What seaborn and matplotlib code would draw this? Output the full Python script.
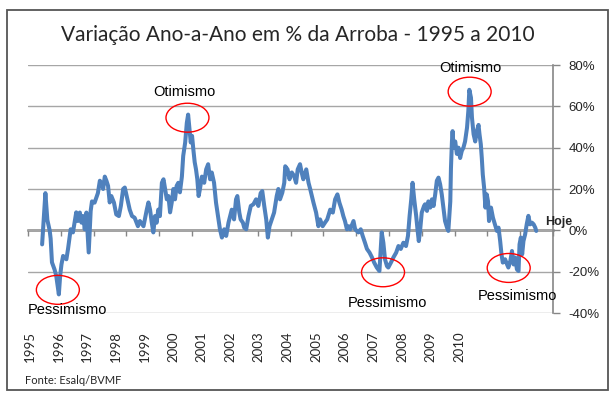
import numpy as np
import pandas as pd
import matplotlib
matplotlib.use("Agg")
import matplotlib.pyplot as plt
import seaborn as sns
from matplotlib.patches import Ellipse, Rectangle

# anos (decimal) e variacao ano-a-ano da arroba (%)
anos = [
    1995.43, 1995.53, 1995.59, 1995.66, 1995.69, 1995.73, 1995.81, 1995.86, 1995.94, 1995.98,
    1996.02, 1996.07, 1996.17, 1996.22, 1996.30, 1996.37, 1996.47, 1996.52, 1996.58, 1996.63,
    1996.68, 1996.73, 1996.78, 1996.85, 1996.91, 1996.95, 1997.03, 1997.13, 1997.19, 1997.23,
    1997.29, 1997.34, 1997.39, 1997.44, 1997.49, 1997.54, 1997.62, 1997.69, 1997.77, 1997.83,
    1997.90, 1997.95, 1998.03, 1998.10, 1998.17, 1998.25, 1998.35, 1998.41, 1998.52, 1998.62,
    1998.67, 1998.72, 1998.77, 1998.82, 1998.87, 1998.92, 1998.97, 1999.02, 1999.08, 1999.13,
    1999.18, 1999.23, 1999.28, 1999.33, 1999.38, 1999.43, 1999.48, 1999.53, 1999.58, 1999.63,
    1999.69, 1999.73, 1999.79, 1999.84, 1999.88, 1999.92, 1999.96, 2000.00, 2000.04, 2000.08,
    2000.12, 2000.16, 2000.20, 2000.24, 2000.30, 2000.37, 2000.43, 2000.49, 2000.55, 2000.60,
    2000.67, 2000.73, 2000.79, 2000.85, 2000.91, 2000.98, 2001.04, 2001.11, 2001.16, 2001.21,
    2001.28, 2001.34, 2001.38, 2001.44, 2001.48, 2001.55, 2001.59, 2001.65, 2001.72, 2001.79,
    2001.87, 2001.95, 2002.02, 2002.09, 2002.14, 2002.20, 2002.26, 2002.31, 2002.36, 2002.43,
    2002.50, 2002.58, 2002.63, 2002.68, 2002.75, 2002.81, 2002.84, 2002.91, 2002.97, 2003.04,
    2003.11, 2003.17, 2003.22, 2003.29, 2003.34, 2003.39, 2003.48, 2003.55, 2003.60, 2003.65,
    2003.70, 2003.78, 2003.85, 2003.90, 2003.98, 2004.05, 2004.12, 2004.21, 2004.29, 2004.36,
    2004.43, 2004.49, 2004.56, 2004.61, 2004.66, 2004.72, 2004.77, 2004.82, 2004.92, 2004.97,
    2005.07, 2005.14, 2005.20, 2005.27, 2005.33, 2005.41, 2005.48, 2005.55, 2005.63, 2005.71,
    2005.75, 2005.78, 2005.83, 2005.88, 2005.94, 2005.98, 2006.06, 2006.14, 2006.22, 2006.29,
    2006.36, 2006.44, 2006.52, 2006.58, 2006.63, 2006.68, 2006.72, 2006.77, 2006.83, 2006.87,
    2006.91, 2006.95, 2007.00, 2007.07, 2007.10, 2007.16, 2007.20, 2007.26, 2007.31, 2007.36,
    2007.41, 2007.46, 2007.51, 2007.56, 2007.61, 2007.66, 2007.71, 2007.77, 2007.81, 2007.87,
    2007.89, 2007.92, 2007.94, 2007.97, 2008.02, 2008.07, 2008.12, 2008.17, 2008.22, 2008.27,
    2008.32, 2008.38, 2008.42, 2008.45, 2008.50, 2008.53, 2008.58, 2008.63, 2008.68, 2008.73,
    2008.76, 2008.80, 2008.83, 2008.86, 2008.90, 2008.94, 2008.98, 2009.02, 2009.05, 2009.11,
    2009.17, 2009.23, 2009.29, 2009.34, 2009.39, 2009.43, 2009.47, 2009.54, 2009.60, 2009.64,
    2009.70, 2009.75, 2009.80, 2009.85, 2009.90, 2009.95, 2009.98, 2010.02, 2010.06, 2010.10,
    2010.15, 2010.20, 2010.25, 2010.30, 2010.36, 2010.41, 2010.46, 2010.49,
]
variacao = [
    -6.8, 18.0, 5.0, 0.0, -4.0, -15.5, -19.0, -22.0, -31.0, -22.0,
    -16.5, -12.4, -14.0, -9.0, 0.5, -1.0, 8.7, 4.5, 8.6, 3.7,
    6.9, 0.5, 8.6, -10.7, 9.4, 14.0, 13.4, 18.0, 24.0, 23.0,
    20.0, 26.0, 24.0, 21.5, 13.5, 16.6, 13.4, 7.7, 6.9, 11.8,
    20.0, 20.7, 15.0, 10.0, 6.9, 6.1, 2.0, 4.5, 2.0, 10.0,
    13.5, 10.0, 3.9, -1.0, 6.9, 3.7, 10.0, 6.9, 23.0, 24.7,
    20.0, 15.0, 16.6, 8.7, 13.4, 20.0, 15.0, 21.5, 23.0, 18.4,
    26.0, 36.0, 42.5, 52.0, 56.0, 49.0, 42.5, 45.7, 39.0, 33.0,
    29.5, 24.7, 16.6, 20.0, 26.0, 23.0, 29.5, 32.0, 24.7, 28.0,
    23.0, 13.4, 6.9, 0.5, -3.5, 0.5, -2.7, 3.7, 6.9, 10.0,
    5.3, 15.0, 16.6, 8.6, 5.3, 3.7, 1.3, 0.5, 6.9, 11.8,
    12.6, 15.0, 11.8, 18.0, 19.0, 11.8, 5.3, -3.5, 2.0, 5.3,
    8.6, 16.6, 20.0, 15.0, 18.2, 23.0, 31.0, 29.5, 24.7, 28.0,
    26.3, 23.0, 29.5, 32.0, 28.0, 24.7, 29.5, 23.0, 20.0, 16.6,
    13.4, 8.6, 2.0, 5.3, 2.0, 3.7, 5.3, 10.0, 8.6, 15.0,
    17.4, 13.4, 10.0, 6.9, 4.5, 0.5, 2.0, 0.5, 4.5, 0.5,
    -1.0, 0.5, -2.7, -6.0, -9.0, -10.8, -13.0, -15.6, -18.0, -19.7,
    -9.0, -1.0, -6.0, -14.0, -17.3, -18.0, -15.6, -13.0, -10.8, -7.6,
    -9.0, -6.0, -7.6, -2.7, 7.0, 15.0, 23.0, 15.0, 7.0, 0.5,
    -5.2, 0.0, 8.6, 11.8, 12.6, 9.4, 14.0, 11.0, 15.0, 11.8,
    17.4, 24.0, 25.5, 22.3, 17.4, 11.0, 4.5, 1.3, -0.3, 14.0,
    30.0, 43.0, 48.0, 40.0, 43.0, 37.0, 40.0, 35.0, 38.4, 40.0,
    43.0, 49.7, 57.8, 68.0, 64.2, 54.6, 46.5, 43.0, 48.0, 51.0,
    46.5, 41.6, 35.0, 27.0, 20.7, 11.0, 17.4, 14.0, 4.5, 11.0,
    6.1, 2.9, -0.3, 1.3, -5.2, -11.6, -15.6, -14.0, -16.5, -18.0,
    -14.8, -10.0, -16.5, -13.2, -18.9, -19.7, -6.8, -3.5, -11.6, -5.2,
    -2.0, 3.0, 7.0, 2.9, 3.7, 2.9, 1.3, -0.3,
]

anos_rotulo = ["1995", "1996", "1997", "1998", "1999", "2000", "2001", "2002",
               "2003", "2004", "2005", "2006", "2007", "2008", "2009", "2010"]
y_ticks = [-40, -20, 0, 20, 40, 60, 80]

# anotacoes: texto, posicao do texto, centro da elipse
notas_texto = ["Pessimismo", "Otimismo", "Pessimismo", "Otimismo", "Pessimismo"]
notas_pos = [(1996.19, -38.7), (1999.78, 66.7), (2005.96, -35.0), (2008.47, 78.5), (2009.92, -31.8)]
elipses = [(1995.91, -28.8), (1999.86, 54.5), (2005.82, -20.3), (2008.46, 67.1), (2009.65, -18.2)]

df = pd.DataFrame({"ano": anos, "variacao": variacao})

sns.set_style("white")
plt.rcParams["font.family"] = ["Liberation Sans", "DejaVu Sans"]

fig = plt.figure(figsize=(6.15, 3.98), dpi=100)
ax = fig.add_axes([28 / 615, 85 / 398, 525 / 615, 248 / 398])

azul = "#4F81BD"
cinza = "#868686"

sns.lineplot(data=df, x="ano", y="variacao", ax=ax, color=azul, lw=2.9,
             estimator=None, sort=False, zorder=3)

ax.set_xlim(1995, 2011)
ax.set_ylim(-40, 80)
ax.set_xlabel("")
ax.set_ylabel("")

# eixo y a direita
ax.yaxis.tick_right()
ax.set_yticks(y_ticks)
ax.set_yticklabels([f"{v}%" for v in y_ticks])
ax.tick_params(axis="y", direction="out", length=5, color=cinza, width=1,
               labelsize=9.5, pad=6, right=True, left=False)
for lbl in ax.get_yticklabels():
    lbl.set_horizontalalignment("left")
ax.grid(axis="y", color="#A6A6A6", lw=1)
for s in ["left", "top", "bottom"]:
    ax.spines[s].set_visible(False)
ax.spines["right"].set_color(cinza)
ax.spines["right"].set_linewidth(1.2)

# rotulos de ano (deslocados como no original)
pos_rotulo = 1995 + (2 + 28.6 * np.arange(len(anos_rotulo))) / 32.8
ax.set_xticks(pos_rotulo)
ax.set_xticklabels(anos_rotulo, rotation=90, fontsize=9.5, family=["Lato", "DejaVu Sans"],
                   va="top")
ax.tick_params(axis="x", length=0, pad=13)

# linha do zero com marcas por ano
sec = ax.secondary_xaxis(1 / 3)
sec.set_xticks(np.arange(1995, 2012))
sec.tick_params(axis="x", direction="out", length=4, color=cinza, width=1, labelbottom=False,
                labeltop=False, bottom=True, top=False)
sec.spines["bottom"].set_color(cinza)
sec.spines["bottom"].set_linewidth(1.8)
sec.spines["top"].set_visible(False)
sec.set_xticklabels([])

for (cx, cy) in elipses:
    ax.add_patch(Ellipse((cx, cy), 1.31, 14, fill=False, edgecolor="red", lw=1, zorder=4))
for txt, (tx, ty) in zip(notas_texto, notas_pos):
    ax.text(tx, ty, txt, ha="center", va="center", fontsize=10.5, color="black",
            clip_on=False, zorder=5)
ax.text(2011.17, 4, "Hoje", ha="center", va="center", fontsize=9, fontweight="bold",
        clip_on=False, zorder=5)

fig.text(298 / 615, 1 - 35 / 398, "Variação Ano-a-Ano em % da Arroba - 1995 a 2010",
         ha="center", va="center", fontsize=15, family=["Lato", "DejaVu Sans"])
fig.text(25 / 615, 1 - 381 / 398, "Fonte: Esalq/BVMF", ha="left", va="center",
         fontsize=8, family=["Lato", "DejaVu Sans"])

fig.patches.append(Rectangle((7 / 615, 8 / 398), 601 / 615, 380 / 398, transform=fig.transFigure,
                             fill=False, edgecolor="#555555", lw=1.3))

fig.savefig("out.png", dpi=100)
